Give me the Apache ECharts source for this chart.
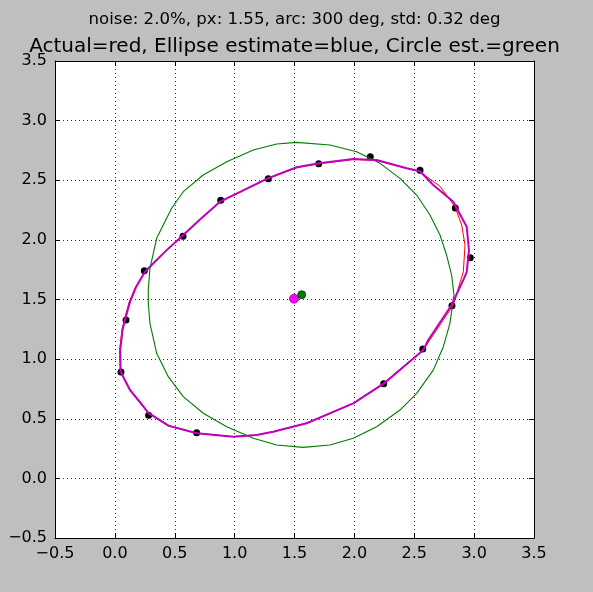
<!DOCTYPE html>
<html><head><meta charset="utf-8">
<script src="https://cdn.jsdelivr.net/npm/echarts@6/dist/echarts.min.js"></script>
<style>html,body{margin:0;padding:0;background:#bfbfbf}#c{width:593px;height:592px}</style>
</head><body><div id="c"></div>
<script>
const axisMin = -0.5, axisMax = 3.5, tickStep = 0.5;
const subtitleText = 'noise: 2.0%, px: 1.55, arc: 300 deg, std: 0.32 deg';
const titleText = 'Actual=red, Ellipse estimate=blue, Circle est.=green';

const samplePoints = [
  [0.051,0.892],[0.093,1.328],[0.246,1.741],[0.569,2.03],[0.884,2.332],[1.281,2.513],
  [1.702,2.639],[2.133,2.697],[2.548,2.583],[2.843,2.267],[2.968,1.851],[2.815,1.448],
  [2.571,1.085],[2.245,0.794],[0.683,0.383],[0.282,0.529]
];

const actualEllipse = [
  [0.04,1.077],[0.06,1.25],[0.085,1.35],[0.12,1.48],[0.17,1.6],[0.245,1.725],[0.33,1.81],
  [0.43,1.91],[0.571,2.035],[0.72,2.18],[0.878,2.318],[1.072,2.413],[1.276,2.512],[1.518,2.605],
  [1.705,2.638],[1.991,2.674],[2.186,2.666],[2.437,2.6],[2.548,2.57],[2.715,2.45],[2.84,2.278],
  [2.896,2.125],[2.924,1.957],[2.91,1.733],[2.826,1.454],[2.715,1.286],[2.576,1.08],
  [2.245,0.8],[1.991,0.631],[1.602,0.464],[1.323,0.393],[1.184,0.364],[0.989,0.35],
  [0.683,0.38],[0.45,0.445],[0.279,0.553],[0.2,0.642],[0.126,0.745],[0.045,0.9],[0.04,1.077]
];

const ellipseEstimate = [
  [0.045,1.077],[0.065,1.25],[0.09,1.35],[0.126,1.48],[0.175,1.6],[0.25,1.73],[0.33,1.812],
  [0.43,1.912],[0.571,2.04],[0.72,2.18],[0.878,2.32],[1.072,2.415],[1.276,2.516],[1.518,2.609],
  [1.705,2.642],[1.991,2.678],[2.186,2.67],[2.437,2.6],[2.548,2.575],[2.659,2.46],[2.826,2.32],
  [2.938,2.11],[2.957,1.915],[2.938,1.73],[2.91,1.664],[2.812,1.454],[2.617,1.16],
  [2.576,1.077],[2.245,0.794],[1.991,0.629],[1.602,0.462],[1.323,0.391],[1.184,0.364],
  [0.989,0.35],[0.683,0.378],[0.45,0.44],[0.279,0.55],[0.21,0.64],[0.126,0.741],[0.048,0.894],[0.045,1.077]
];

const circleEstimate = [
  [1.518,2.818],[1.796,2.796],[2.019,2.739],[2.214,2.642],[2.381,2.516],[2.52,2.376],[2.631,2.209],
  [2.715,2.041],[2.77,1.873],[2.812,1.705],[2.832,1.538],[2.826,1.496],[2.798,1.3],[2.743,1.104],
  [2.659,0.908],[2.52,0.713],[2.381,0.573],[2.186,0.433],[1.991,0.336],[1.796,0.28],[1.573,0.26],
  [1.351,0.28],[1.156,0.336],[0.934,0.433],[0.738,0.546],[0.571,0.685],[0.446,0.853],[0.349,1.049],
  [0.293,1.3],[0.279,1.468],[0.279,1.58],[0.293,1.762],[0.349,2.013],[0.474,2.265],[0.571,2.404],
  [0.738,2.544],[0.934,2.656],[1.156,2.754],[1.351,2.804],[1.518,2.818]
];

const ellipseCenter = [[1.496,1.507]];
const circleCenter = [[1.56,1.54]];

const FONT = 'DejaVu Sans';
const fmt = v => v.toFixed(1).replace('-', '\u2212');

function makeAxis(pos, showLabels, showGrid) {
  return {
    type: 'value', position: pos, min: axisMin, max: axisMax, interval: tickStep,
    axisLine: { show: true, onZero: false, lineStyle: { color: '#000', width: 1 } },
    axisTick: { show: true, inside: true, length: 5, lineStyle: { color: '#000', width: 1 } },
    axisLabel: { show: showLabels, formatter: fmt, color: '#000', fontSize: 16, fontFamily: FONT, margin: 8,
                 showMinLabel: true, showMaxLabel: true },
    splitLine: { show: showGrid, lineStyle: { color: '#000', width: 1, type: [1, 3], opacity: 0.8 } }
  };
}

const chart = echarts.init(document.getElementById('c'), null, { renderer: 'canvas' });
chart.setOption({
  backgroundColor: '#bfbfbf',
  animation: false,
  graphic: [
    { type: 'text', x: 294.5, y: 20, style: { text: subtitleText, fill: '#000', font: '16.6px "DejaVu Sans"', textAlign: 'center', textVerticalAlign: 'middle' } },
    { type: 'text', x: 294.5, y: 47, style: { text: titleText, fill: '#000', font: '20px "DejaVu Sans"', textAlign: 'center', textVerticalAlign: 'middle' } }
  ],
  grid: { left: 55, top: 61, width: 479, height: 477, backgroundColor: '#fff', show: true, borderWidth: 0 },
  xAxis: [makeAxis('bottom', true, true), makeAxis('top', false, false)],
  yAxis: [makeAxis('left', true, true), makeAxis('right', false, false)],
  series: [
    { type: 'scatter', data: samplePoints, symbolSize: 7, itemStyle: { color: '#000', opacity: 1 }, z: 2 },
    { type: 'line', data: circleEstimate, showSymbol: false, symbol: 'none', lineStyle: { color: '#007a00', width: 1.1 }, z: 3 },
    { type: 'line', data: actualEllipse, showSymbol: false, symbol: 'none', lineStyle: { color: '#ff0000', width: 1 }, z: 3 },
    { type: 'line', data: ellipseEstimate, showSymbol: false, symbol: 'none', lineStyle: { color: '#bf00bf', width: 2 }, z: 4 },
    { type: 'scatter', data: ellipseCenter, symbolSize: 9, itemStyle: { color: '#ff00ff', borderColor: '#800080', borderWidth: 0.8, opacity: 1 }, z: 5 },
    { type: 'scatter', data: circleCenter, symbolSize: 8, itemStyle: { color: '#008000', borderColor: '#003300', borderWidth: 0.8, opacity: 1 }, z: 5 }
  ]
});
</script></body></html>
